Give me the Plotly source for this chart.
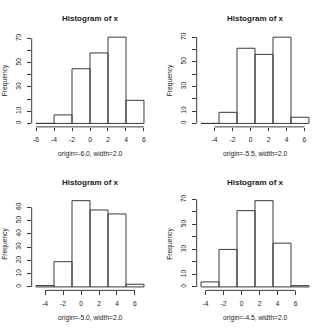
import plotly.graph_objects as go

# ---- data ----
origins = [-6.0, -5.5, -5.0, -4.5]
bin_width = 2.0
counts_1 = [0, 7, 45, 58, 71, 19]
counts_2 = [0, 9, 61, 56, 70, 5]
counts_3 = [1, 19, 65, 58, 55, 2]
counts_4 = [4, 30, 61, 69, 35, 1]
all_counts = [counts_1, counts_2, counts_3, counts_4]
x_ticks = [
    [-6, -4, -2, 0, 2, 4, 6],
    [-4, -2, 0, 2, 4, 6],
    [-4, -2, 0, 2, 4, 6],
    [-4, -2, 0, 2, 4, 6],
]
y_ticks = [
    [0, 10, 20, 30, 40, 50, 60, 70],
    [0, 10, 20, 30, 40, 50, 60, 70],
    [0, 10, 20, 30, 40, 50, 60],
    [0, 10, 20, 30, 40, 50, 60, 70],
]
y_ticktext = [
    ["0", "10", "", "30", "", "50", "", "70"],
    ["0", "10", "", "30", "", "50", "", "70"],
    ["0", "10", "20", "30", "40", "50", "60"],
    ["0", "10", "", "30", "", "50", "", "70"],
]
main_title = "Histogram of x"
y_title = "Frequency"

W = H = 330
P = 165
FONT = "Liberation Sans, Arial, Helvetica, sans-serif"
BASE = 6.7
LINE = "#3a3a3a"
TXT = "#1a1a1a"

fig = go.Figure()
layout = dict(
    width=W, height=H, margin=dict(l=0, r=0, t=0, b=0),
    paper_bgcolor="white", plot_bgcolor="white", showlegend=False,
    font=dict(family=FONT, size=BASE, color=TXT),
)
annotations = []
shapes = []

for i, counts in enumerate(all_counts):
    row, col = divmod(i, 2)
    ox, oy = col * P, row * P
    n = len(counts)
    o = origins[i]
    breaks = [o + k * bin_width for k in range(n + 1)]
    sfx = "" if i == 0 else str(i + 1)
    xa, ya = "x" + sfx, "y" + sfx

    # bars as outlined rectangles (zero-count bins still show their base line)
    px, py = [], []
    for k in range(n):
        px += [breaks[k], breaks[k], breaks[k + 1], breaks[k + 1], breaks[k], None]
        py += [0, counts[k], counts[k], 0, 0, None]
    fig.add_trace(go.Scatter(x=px, y=py, mode="lines", xaxis=xa, yaxis=ya,
                             line=dict(color=LINE, width=1), hoverinfo="skip"))

    xr = breaks[-1] - breaks[0]
    ymax = max(counts)
    x_dom = [(ox + 31.7) / W, (ox + 148.3) / W]
    y_dom = [1 - (oy + 125) / H, 1 - (oy + 31) / H]
    layout["xaxis" + sfx] = dict(
        domain=x_dom, anchor=ya, range=[breaks[0] - 0.04 * xr, breaks[-1] + 0.04 * xr],
        showgrid=False, zeroline=False, showline=False,
        tickvals=x_ticks[i], ticktext=[str(v) for v in x_ticks[i]],
        ticks="outside", ticklen=3.5, tickwidth=1, tickcolor=LINE,
        ticklabelstandoff=3,
        tickfont=dict(size=BASE, color=TXT),
    )
    layout["yaxis" + sfx] = dict(
        domain=y_dom, anchor=xa, range=[-0.04 * ymax, 1.04 * ymax],
        showgrid=False, zeroline=False, showline=False,
        tickvals=y_ticks[i], ticktext=y_ticktext[i], tickangle=-90,
        ticks="outside", ticklen=3.5, tickwidth=1, tickcolor=LINE,
        ticklabelstandoff=4,
        tickfont=dict(size=BASE, color=TXT),
    )
    # axis lines spanning first..last tick (R style)
    shapes.append(dict(type="line", xref=xa, yref=ya + " domain",
                       x0=x_ticks[i][0], x1=x_ticks[i][-1], y0=0, y1=0,
                       line=dict(color=LINE, width=1)))
    shapes.append(dict(type="line", xref=xa + " domain", yref=ya,
                       x0=0, x1=0, y0=y_ticks[i][0], y1=y_ticks[i][-1],
                       line=dict(color=LINE, width=1)))

    annotations.append(dict(text="<b>" + main_title + "</b>", xref="paper", yref="paper",
                            x=(ox + 90.3) / W, y=1 - (oy + 16) / H, showarrow=False,
                            xanchor="center", yanchor="middle",
                            font=dict(size=8.0, color=TXT, family=FONT)))
    annotations.append(dict(text="origin=%.1f, width=%.1f" % (o, bin_width),
                            xref="paper", yref="paper",
                            x=(ox + 90.8) / W, y=1 - (oy + 152.7) / H, showarrow=False,
                            xanchor="center", yanchor="middle",
                            font=dict(size=BASE, color=TXT, family=FONT)))
    annotations.append(dict(text=y_title, xref="paper", yref="paper",
                            x=(ox + 5) / W, y=1 - (oy + 78) / H, showarrow=False,
                            textangle=-90, xanchor="center", yanchor="middle",
                            font=dict(size=BASE, color=TXT, family=FONT)))

layout["annotations"] = annotations
layout["shapes"] = shapes
fig.update_layout(**layout)
fig.write_html("out.html")
